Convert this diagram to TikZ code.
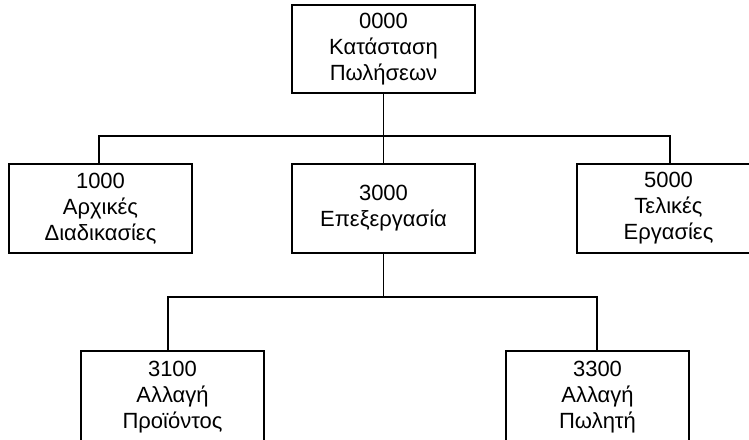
\documentclass[tikz,border=0pt]{standalone}
\usepackage{fontspec}
\setmainfont{Liberation Sans}
\begin{document}
\begin{tikzpicture}[x=1pt,y=-1pt,
  box/.style={draw, line width=1.3pt, minimum width=183pt, minimum height=88pt, inner sep=0pt, align=center, font=\fontsize{22}{26}\selectfont},
  conn/.style={line width=1.3pt}]
\useasboundingbox (0,0) rectangle (749,439);
\clip (0,0) rectangle (749,439);
\node[box] (top) at (383.5,49) {0000\\Κατάσταση\\Πωλήσεων};
\node[box, minimum height=89pt] (l) at (100.5,208.5) {1000\\Αρχικές\\Διαδικασίες};
\node[box, minimum height=89pt] (m) at (383.5,208.5) {3000\\Επεξεργασία};
\node[box, minimum height=89pt] (r) at (668.5,208.5) {5000\\Τελικές\\Εργασίες};
\node[box, minimum height=92pt] (bl) at (172.5,397) {3100\\Αλλαγή\\Προϊόντος};
\node[box, minimum height=92pt] (br) at (597.5,397) {3300\\Αλλαγή\\Πωλητή};
\coordinate (bus1) at (0,136);
\coordinate (bus2) at (0,297);
\draw[conn] (top.south) -- (top.south |- bus1);
\draw[conn] ([xshift=-1.5pt]l.north) |- ([xshift=1.5pt]r.north |- bus1) -- ([xshift=1.5pt]r.north);
\draw[conn] (m.north) -- (m.north |- bus1);
\draw[conn] (m.south) -- (m.south |- bus2);
\draw[conn] ([xshift=-4.5pt]bl.north) |- ([xshift=-0.5pt]br.north |- bus2) -- ([xshift=-0.5pt]br.north);
\end{tikzpicture}
\end{document}
